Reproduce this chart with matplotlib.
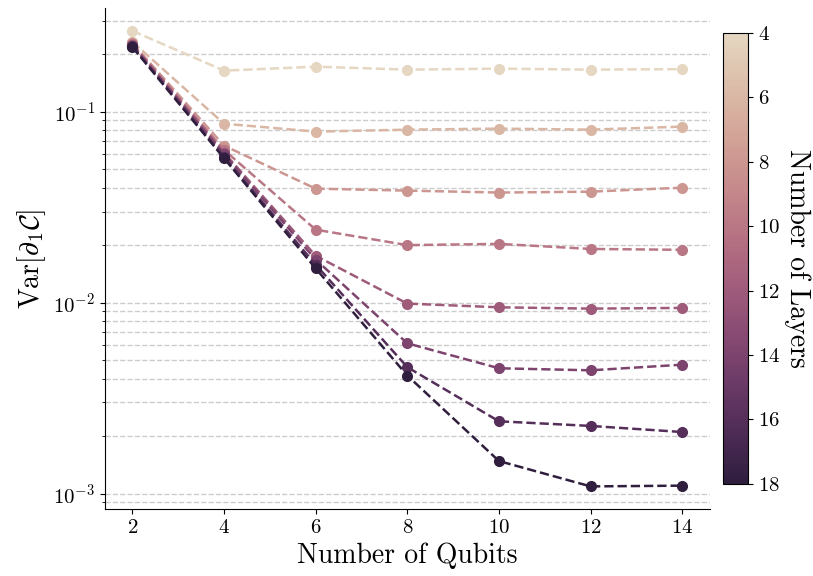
import numpy as np
import matplotlib
matplotlib.use("Agg")
import matplotlib.pyplot as plt
from matplotlib.colors import LinearSegmentedColormap, Normalize
from matplotlib.cm import ScalarMappable

plt.rcParams['font.family'] = 'serif'
plt.rcParams['font.serif'] = ['cmr10']
plt.rcParams['mathtext.fontset'] = 'cm'
plt.rcParams['axes.formatter.use_mathtext'] = True

# gradient variance vs system size, one curve per circuit depth
qubits = [2, 4, 6, 8, 10, 12, 14]
layers = [4, 6, 8, 10, 12, 14, 16, 18]
variances = {
    4:  [0.265, 0.164, 0.172, 0.166, 0.168, 0.166, 0.167],
    6:  [0.232, 0.0865, 0.0786, 0.0805, 0.0815, 0.0805, 0.0835],
    8:  [0.228, 0.0664, 0.0395, 0.0386, 0.0377, 0.0381, 0.0400],
    10: [0.226, 0.063, 0.0241, 0.0200, 0.0203, 0.0191, 0.0189],
    12: [0.224, 0.061, 0.0176, 0.00988, 0.00945, 0.00930, 0.00938],
    14: [0.222, 0.060, 0.0168, 0.00612, 0.00453, 0.00442, 0.00473],
    16: [0.220, 0.058, 0.0158, 0.00459, 0.00239, 0.00226, 0.00210],
    18: [0.218, 0.057, 0.0151, 0.00415, 0.00148, 0.00109, 0.00110],
}


def cubehelix_cmap(start=0.0, rot=0.5, hue=0.8, light=0.85, dark=0.15, n=256):
    x = np.linspace(light, dark, n)
    a = hue * x * (1 - x) / 2
    phi = 2 * np.pi * (start / 3 + rot * x)
    c, s = np.cos(phi), np.sin(phi)
    r = x + a * (-0.14861 * c + 1.78277 * s)
    g = x + a * (-0.29227 * c - 0.90649 * s)
    b = x + a * (1.97294 * c)
    rgb = np.clip(np.stack([r, g, b], axis=1), 0, 1)
    return LinearSegmentedColormap.from_list("helix", rgb)


cmap = cubehelix_cmap()
norm = Normalize(vmin=min(layers), vmax=max(layers))

fig = plt.figure(figsize=(8.13, 5.76), dpi=100)
ax = fig.add_axes([0.129, 0.116, 0.744, 0.870])
cax = fig.add_axes([0.889, 0.160, 0.031, 0.783])

for L in layers:
    col = cmap(norm(L))
    ax.plot(qubits, variances[L], '--o', color=col, lw=1.8, ms=7)

ax.set_yscale('log')
ax.set_xticks(qubits)
ax.tick_params(axis='both', which='major', labelsize=15)
ax.grid(True, which='both', axis='y', ls='--', color='#cccccc', lw=1)
ax.spines['top'].set_visible(False)
ax.spines['right'].set_visible(False)
ax.set_xlabel('Number of Qubits', fontsize=20)
ax.set_ylabel(r'$\mathrm{Var}[\partial_1 \mathcal{C}]$', fontsize=20)

sm = ScalarMappable(norm=norm, cmap=cmap)
cb = fig.colorbar(sm, cax=cax, ticks=layers)
cax.invert_yaxis()
cax.tick_params(labelsize=15)
cb.set_label('Number of Layers', fontsize=20, rotation=270, labelpad=22)

fig.savefig('out.png', dpi=100)
